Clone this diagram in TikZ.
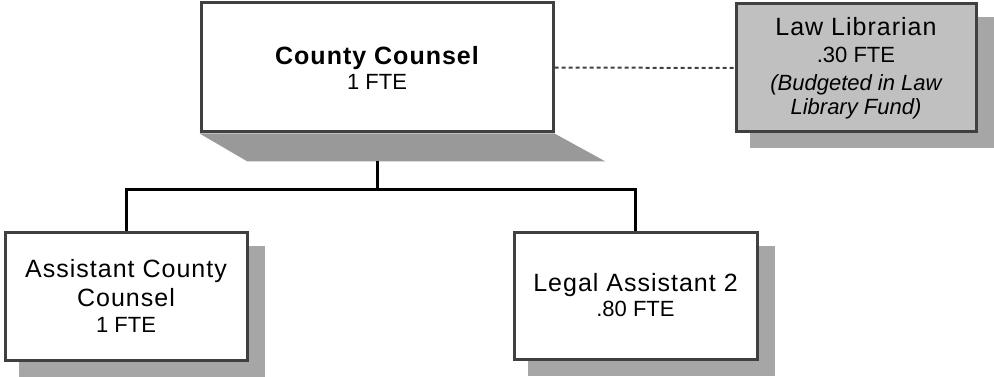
\documentclass[tikz,border=0pt]{standalone}
\usepackage{fontspec}
\setmainfont{Liberation Sans}[LetterSpace=4]
\newfontfamily\ftefont{Liberation Sans}
\newfontfamily\notefont{Liberation Sans}
\usetikzlibrary{calc,backgrounds}
\definecolor{edgegray}{HTML}{404040}
\definecolor{shadegray}{HTML}{A6A6A6}
\definecolor{perspgray}{HTML}{999999}
\definecolor{fillgray}{HTML}{C0C0C0}
\newcommand\titlesize{\fontsize{25}{25}\selectfont}
\newcommand\ftesize{\fontsize{22}{25}\selectfont}
\tikzset{
  posbox/.style={draw=edgegray, line width=3pt, fill=white, inner sep=0pt,
    align=center, font=\titlesize},
  tree/.style={line width=3pt, black},
  dotlink/.style={line width=2pt, edgegray, dash pattern=on 4pt off 3pt},
}
\begin{document}
\begin{tikzpicture}[x=1pt, y=-1pt]
\useasboundingbox (0,0) rectangle (994,377);

% positions
\node[posbox, minimum width=352pt, minimum height=129pt] (cc) at (377,67.5)
  {{\bfseries County Counsel}\\{\ftefont\ftesize 1 FTE}};
\node[posbox, fill=fillgray, minimum width=240pt, minimum height=128pt] (ll) at (856,68)
  {Law Librarian\\[2pt]{\ftefont\ftesize .30 FTE}\\[3pt]
   {\notefont\ftesize\itshape (Budgeted in Law}\\[-1pt]
   {\notefont\ftesize\itshape Library Fund)}};
\node[posbox, minimum width=242pt, minimum height=128pt] (aa) at (126,296)
  {Assistant County\\[4pt]Counsel\\[1pt]{\ftefont\ftesize 1 FTE}};
\node[posbox, minimum width=243pt, minimum height=127pt] (la) at (635.5,295.5)
  {Legal Assistant 2\\{\ftefont\ftesize .80 FTE}};

% shadows
\begin{scope}[on background layer]
  \fill[perspgray] (cc.south west) -- (cc.south east)
    -- ($(cc.south east)+(51,28)$) -- ($(cc.south west)+(48,28)$) -- cycle;
  \foreach \b in {ll,aa,la}
    \fill[shadegray] ($(\b.north west)+(15,15)$) rectangle ($(\b.south east)+(16,15)$);
\end{scope}

% reporting lines
\coordinate (ccbase) at ($(cc.south)+(0,28)$);
\draw[tree] (ccbase) -- ++(0,28) coordinate (fork) -| (aa.north);
\draw[tree] (fork) -| (la.north);
\draw[dotlink] (cc.east) -- (ll.west);
\end{tikzpicture}
\end{document}
